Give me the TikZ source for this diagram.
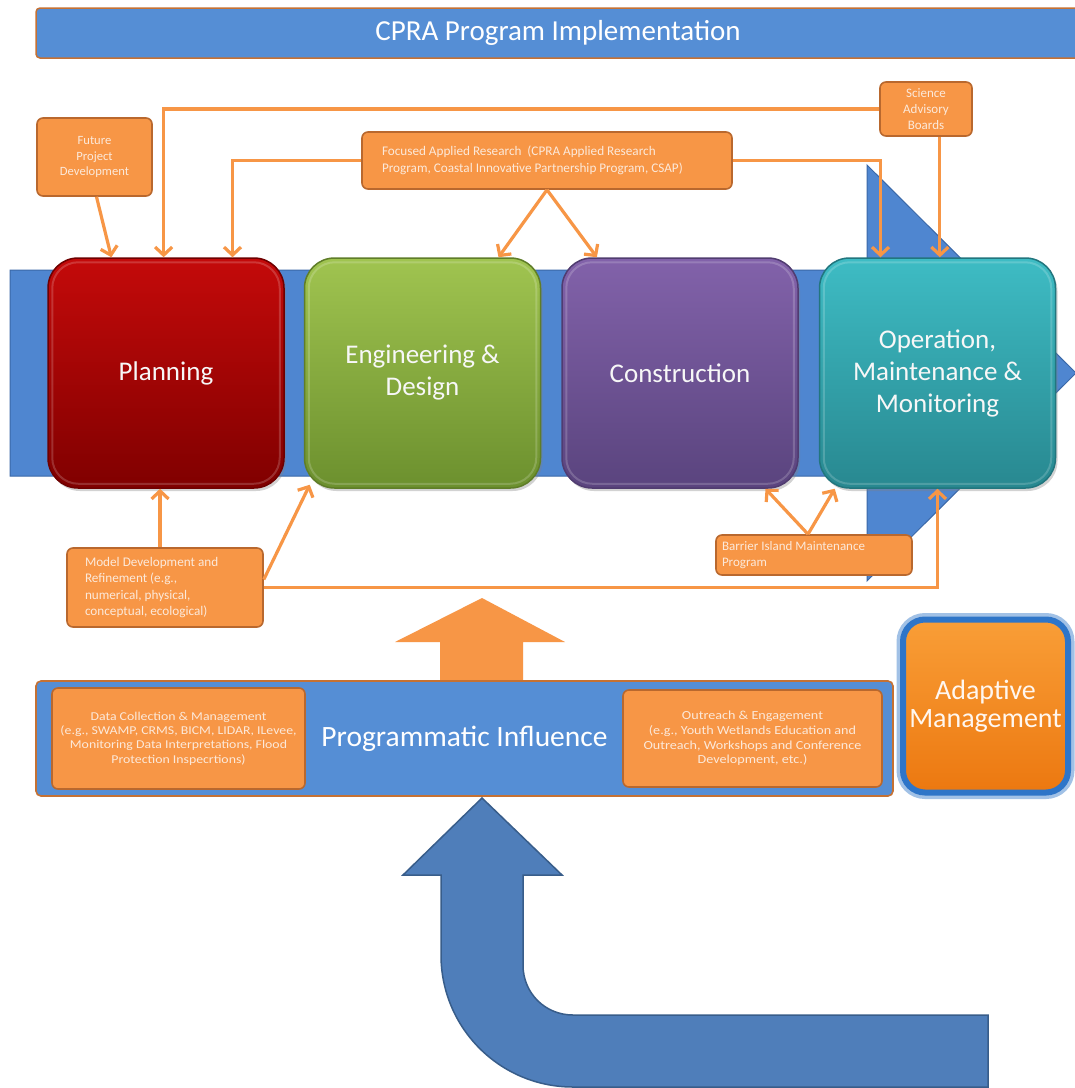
\documentclass[tikz,border=0pt]{standalone}
\usepackage{fontspec}
\setmainfont{Carlito}
\newfontfamily\widefont[FakeStretch=1.15]{Carlito}
\usetikzlibrary{arrows.meta,calc,shadows}
\definecolor{orfill}{HTML}{F79646}
\definecolor{ordraw}{HTML}{B9682E}
\definecolor{ortext}{HTML}{FCE9DA}
\definecolor{bandblue}{HTML}{4F86D0}
\definecolor{banddraw}{HTML}{3A68A8}
\definecolor{titleblue}{HTML}{558ED5}
\definecolor{bentblue}{HTML}{4F7EBA}
\definecolor{bentdraw}{HTML}{385D8A}
\definecolor{adglow}{HTML}{2E75C8}
\begin{document}
\begin{tikzpicture}[x=1pt,y=-1pt,
  smallbox/.style={draw=ordraw, fill=orfill, line width=1.6pt, rounded corners=6pt,
    text=ortext, inner sep=2pt},
  procbox/.style={rounded corners=30pt, minimum width=236pt, minimum height=230pt,
    text=white!94!gray, align=flush center, font=\fontsize{27}{32}\selectfont, line width=1.5pt,
    drop shadow={opacity=0.35, shadow xshift=2pt, shadow yshift=-3pt}},
  gloss/.style={draw=white, opacity=0.18, line width=2pt, rounded corners=26pt},
  conn/.style={draw=orfill, line width=3.2pt, -{Straight Barb[length=8pt,width=17pt]}}
]
\fill[white] (0,0) rectangle (1075,1088);
\useasboundingbox (0,0) rectangle (1075,1088);

% title bar
\node[fill=titleblue, draw=ordraw!80!orfill, line width=1.5pt, rounded corners=4pt,
  minimum width=1044pt, minimum height=50pt, text=white,
  font=\fontsize{29}{34}\selectfont] (title) at (558,33) {CPRA Program Implementation};

% big process arrow
\draw[fill=bandblue, draw=banddraw, line width=1pt]
  (10,270) -- (867,270) -- (867,165) -- (1076,373) -- (867,581) -- (867,476) -- (10,476) -- cycle;

% process boxes
\node[procbox, top color={rgb,255:red,196;green,10;blue,10}, bottom color={rgb,255:red,128;green,0;blue,0}, draw={rgb,255:red,110;green,0;blue,0}] (plan) at (166,373) {Planning};
\node[procbox, top color={rgb,255:red,160;green,196;blue,80}, bottom color={rgb,255:red,108;green,144;blue,46}, draw={rgb,255:red,95;green,125;blue,40}] (eng) at (422.5,373) {Engineering \&\\Design};
\node[procbox, top color={rgb,255:red,130;green,98;blue,170}, bottom color={rgb,255:red,90;green,68;blue,126}, draw={rgb,255:red,80;green,60;blue,112}] (cons) at (680,373) {Construction};
\node[procbox, top color={rgb,255:red,62;green,188;blue,196}, bottom color={rgb,255:red,40;green,136;blue,144}, draw={rgb,255:red,34;green,118;blue,126}] (ope) at (937.5,373) {Operation,\\Maintenance \&\\Monitoring};
\foreach \b in {plan,eng,cons,ope}
  \draw[gloss] ($(\b.north west)+(5,5)$) rectangle ($(\b.south east)+(-5,-5)$);

% small boxes above
\node[smallbox, minimum width=115pt, minimum height=78pt, align=flush center,
  font=\fontsize{12.6}{15.5}\selectfont] (fut) at (94.5,157) {Future\\Project\\Development};
\node[smallbox, minimum width=92pt, minimum height=54pt, align=flush center,
  font=\fontsize{13}{16}\selectfont] (sci) at (926,109) {Science\\Advisory\\Boards};
\node[smallbox, minimum width=370pt, minimum height=57pt, text width=330pt, align=flush left,
  font=\fontsize{13.2}{17}\selectfont] (far) at (547,160.5)
  {Focused Applied Research\ \ (CPRA Applied Research\\Program, Coastal Innovative Partnership Program, CSAP)};

% small boxes below
\node[smallbox, minimum width=196pt, minimum height=79pt, text width=160pt, align=flush left,
  font=\fontsize{13.2}{16.5}\selectfont] (model) at (165,587.5)
  {Model Development and\\Refinement (e.g.,\\numerical, physical,\\conceptual, ecological)};
\node[smallbox, minimum width=196pt, minimum height=40pt, text width=184pt, align=flush left,
  font=\fontsize{13}{16.5}\selectfont] (bar) at (814,555)
  {Barrier Island Maintenance\\Program};

% anchor points on the process boxes
\coordinate (pN1) at ($(plan.north west)!0.27!(plan.north east)$);
\coordinate (pN2) at ($(plan.north west)!0.49!(plan.north east)$);
\coordinate (pN3) at ($(plan.north west)!0.78!(plan.north east)$);
\coordinate (eN) at ($(eng.north west)!0.82!(eng.north east)$);
\coordinate (cN) at ($(cons.north west)!0.15!(cons.north east)$);
\coordinate (oN1) at ($(ope.north west)!0.26!(ope.north east)$);
\coordinate (oN2) at ($(ope.north west)!0.51!(ope.north east)$);
\coordinate (pS) at ($(plan.south west)!0.475!(plan.south east)$);
\coordinate (eSW) at ($(eng.south west)+(6,-4)$);
\coordinate (cS) at ($(cons.south west)!0.86!(cons.south east)$);
\coordinate (oSW) at ($(ope.south west)+(16,0)$);
\coordinate (oS) at ($(ope.south west)!0.50!(ope.south east)$);

% connectors (top)
\draw[conn] ($(fut.south)+(2,0)$) -- (pN1);
\draw[conn] (sci.west) -| (pN2);
\draw[conn] (sci.south -| oN2) -- (oN2);
\draw[conn] (far.west) -| (pN3);
\draw[conn] (far.east) -| (oN1);
\draw[conn] (far.south) -- (eN);
\draw[conn] (far.south) -- (cN);

% connectors (bottom)
\draw[conn] (model.north -| pS) -- (pS);
\draw[conn] ($(model.east)+(0,-8)$) -- (eSW);
\draw[conn] (model.east) -| (oS);
\draw[conn] ($(bar.north)+(-6,0)$) -- (cS);
\draw[conn] ($(bar.north)+(-6,0)$) -- (oSW);

% orange upward arrow
\fill[orfill] (440,682) -- (440,642) -- (395,642) -- (482,598) -- (565,642) -- (523,642) -- (523,682) -- cycle;

% programmatic influence bar
\node[fill=titleblue, draw=ordraw!80!orfill, line width=1.6pt, rounded corners=5pt,
  minimum width=857pt, minimum height=115pt, text=white,
  font=\fontsize{29.5}{34}\selectfont] (prog) at (464.5,738.5) {Programmatic Influence};
\node[smallbox, minimum width=253pt, minimum height=101pt, align=flush center,
  font=\widefont\fontsize{12}{14.2}\selectfont] (data) at (178.5,738.5)
  {Data Collection \& Management\\(e.g., SWAMP, CRMS, BICM, LIDAR, ILevee,\\Monitoring Data Interpretations, Flood\\Protection Inspecrtions)};
\node[smallbox, minimum width=259pt, minimum height=97pt, align=flush center,
  font=\widefont\fontsize{12.3}{14.8}\selectfont] (outr) at (752.5,738.5)
  {Outreach \& Engagement\\(e.g., Youth Wetlands Education and\\Outreach, Workshops and Conference\\Development, etc.)};

% adaptive management
\node[rounded corners=22pt, minimum width=165pt, minimum height=173pt,
  top color={rgb,255:red,249;green,158;blue,55}, bottom color={rgb,255:red,236;green,120;blue,16},
  draw=adglow, line width=6pt,
  preaction={draw=adglow!45, line width=13pt, rounded corners=22pt},
  text=white!94!orange, align=flush center, font=\fontsize{28}{28.5}\selectfont] (adapt) at (985.5,706)
  {Adaptive\\Management};

% bent blue arrow
\draw[fill=bentblue, draw=bentdraw, line width=1.5pt]
  (441,875) -- (403,875) -- (482,798) -- (562,875) -- (523,875) -- (523,965)
  .. controls (523,993) and (545,1015) .. (573,1015) -- (988,1015) -- (988,1087)
  -- (573,1087) .. controls (500,1087) and (441,1028) .. (441,955) -- cycle;
\end{tikzpicture}
\end{document}
